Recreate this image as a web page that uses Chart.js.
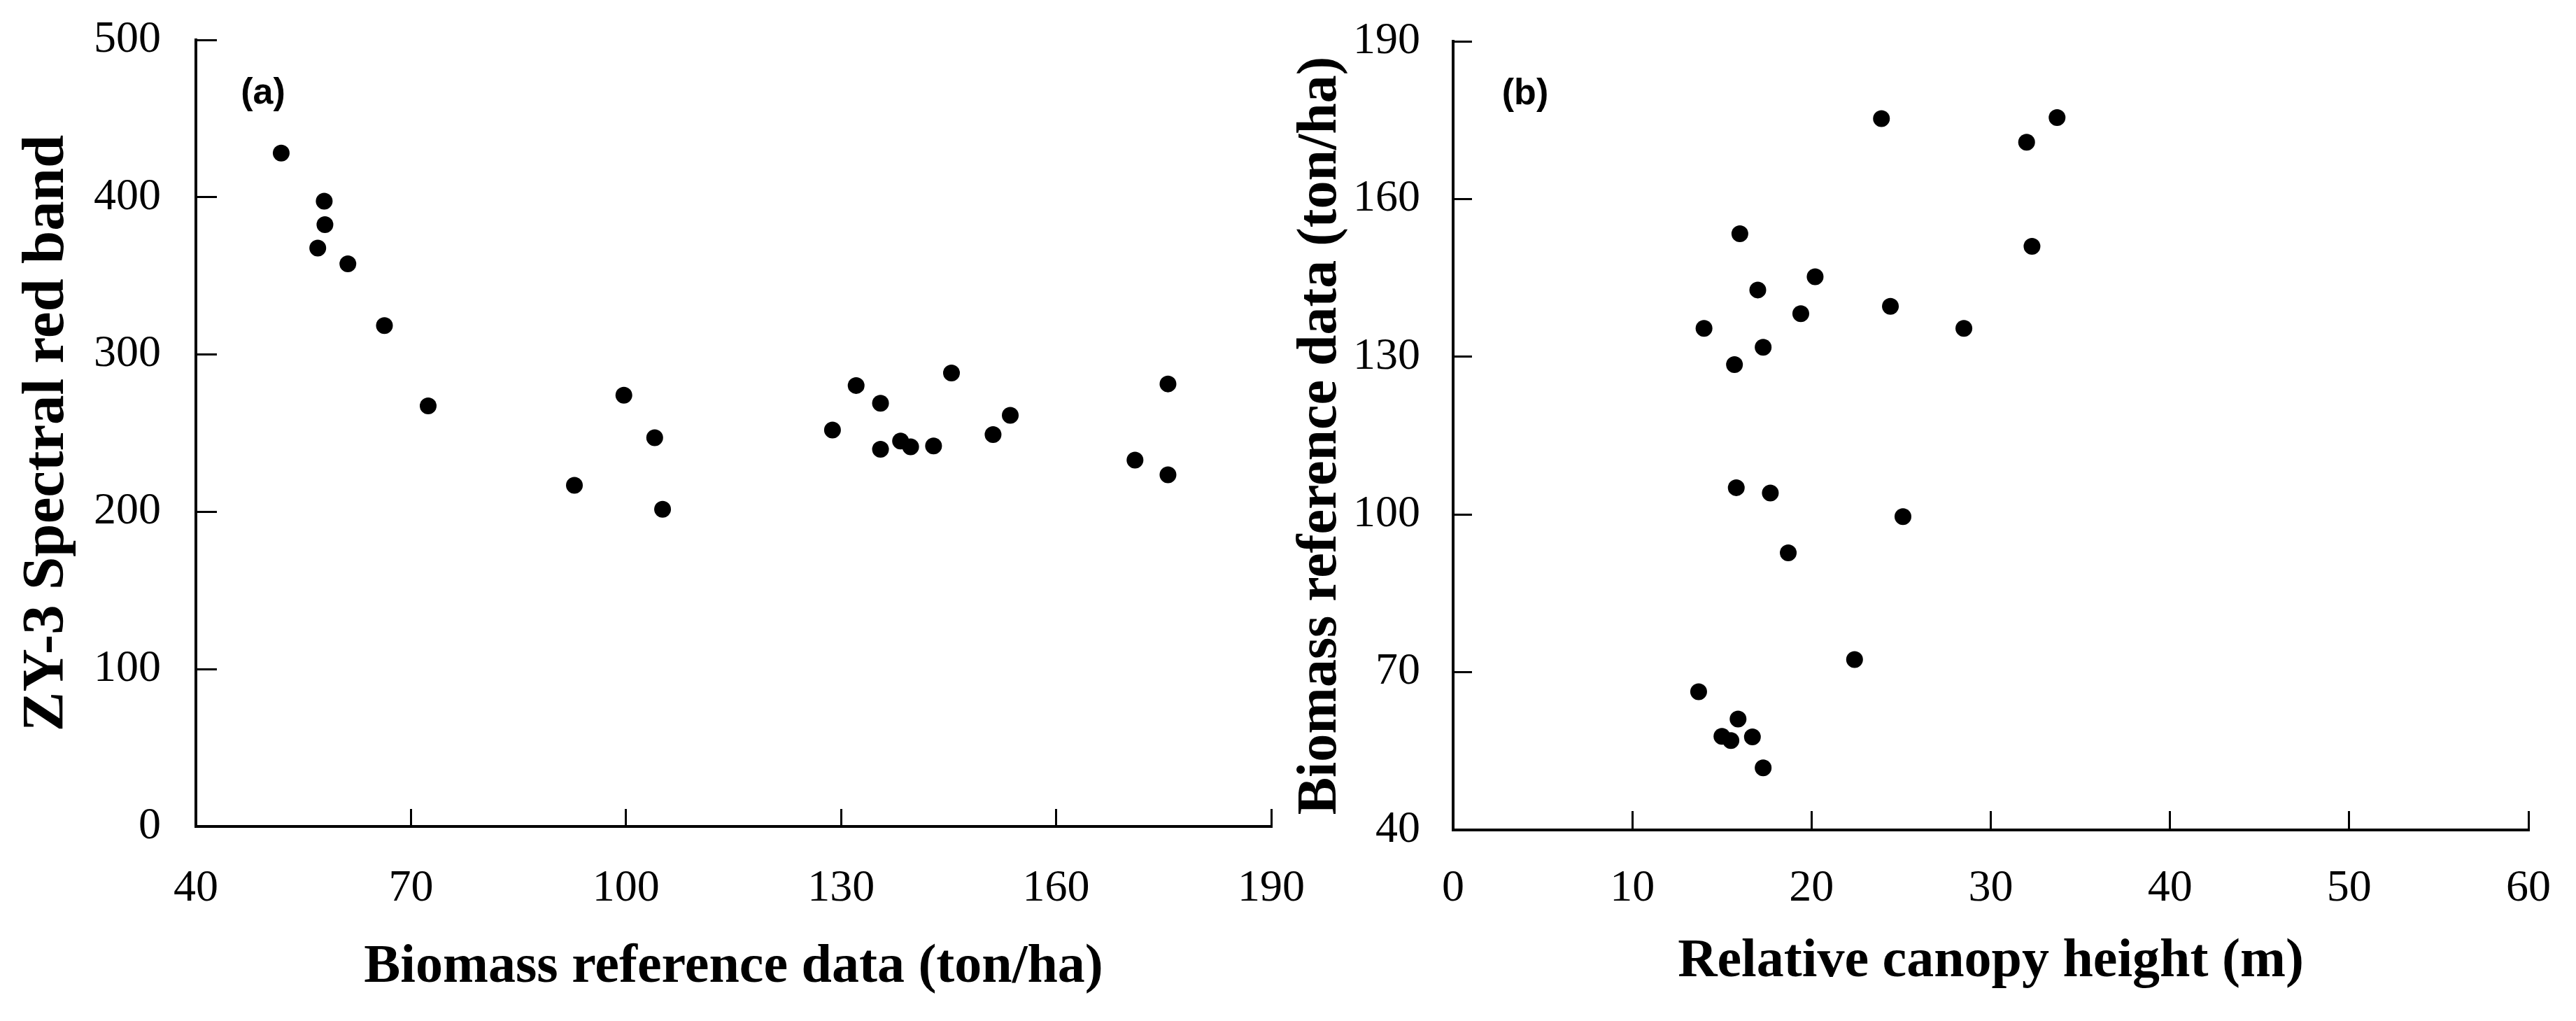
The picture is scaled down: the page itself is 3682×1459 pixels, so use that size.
<!DOCTYPE html>
<html>
<head>
<meta charset="utf-8">
<script src="https://cdn.jsdelivr.net/npm/chart.js@4.4.0/dist/chart.umd.min.js"></script>
<style>
  html, body { margin: 0; padding: 0; background: #fff; }
  #wrap { position: relative; width: 3682px; height: 1459px; overflow: hidden; }
  canvas { position: absolute; top: 0; }
  #chartA { left: 0; }
  #chartB { left: 1800px; }
</style>
</head>
<body>
<div id="wrap">
  <canvas id="chartA" width="1867" height="1459" style="width:1867px;height:1459px"></canvas>
  <canvas id="chartB" width="1882" height="1459" style="width:1882px;height:1459px"></canvas>
</div>
<script>
// Panel (a): biomass vs ZY-3 red band
const biomassA = [51.9, 57.9, 58.0, 57.0, 61.2, 66.3, 72.4, 99.7, 104.0, 92.8, 105.1, 132.1,
                  135.5, 145.4, 128.8, 135.5, 138.3, 139.7, 142.9, 151.2, 153.6, 175.6, 171.0, 175.6];
const redBand = [428, 397.5, 382.6, 367.7, 357.7, 318.4, 267.3, 274.1, 247.1, 216.9, 201.6, 280.3,
                 269.0, 288.3, 252.0, 239.8, 245.0, 241.3, 241.9, 249.1, 261.3, 281.3, 232.9, 223.5];
const xTicksA = [40, 70, 100, 130, 160, 190];
const yTicksA = [0, 100, 200, 300, 400, 500];

// Panel (b): canopy height vs biomass
const canopyHeight = [23.9, 33.7, 32.0, 16.0, 32.3, 20.2, 17.0, 24.4, 19.4, 14.0, 28.5, 17.3,
                      15.7, 15.8, 17.7, 25.1, 18.7, 22.4, 13.7, 15.9, 15.0, 15.5, 16.7, 17.3];
const biomassB = [175.3, 175.5, 170.8, 153.4, 151.0, 145.2, 142.7, 139.6, 138.2, 135.4, 135.4, 131.8,
                  128.5, 105.1, 104.1, 99.6, 92.7, 72.4, 66.3, 61.1, 57.8, 57.0, 57.7, 51.8];
const xTicksB = [0, 10, 20, 30, 40, 50, 60];
const yTicksB = [40, 70, 100, 130, 160, 190];

const serif = "'Liberation Serif', 'Times New Roman', serif";

function toPoints(xs, ys) {
    return xs.map((x, i) => ({ x: x, y: ys[i] }));
}

// draws the "(a)" / "(b)" panel tag inside the plot area
function panelTag(text, dx, dy) {
    return {
        id: 'panelTag',
        afterDraw(chart) {
            const ctx = chart.ctx;
            const area = chart.chartArea;
            ctx.save();
            ctx.fillStyle = '#000';
            ctx.font = "bold 52px 'Liberation Sans', Arial, sans-serif";
            ctx.textAlign = 'center';
            ctx.textBaseline = 'middle';
            ctx.fillText(text, area.left + dx, area.top + dy);
            ctx.restore();
        }
    };
}

function axis(opts) {
    return {
        type: 'linear',
        position: opts.position,
        min: opts.ticks[0],
        max: opts.ticks[opts.ticks.length - 1],
        afterBuildTicks: (scale) => {
            scale.ticks = opts.ticks.map(v => ({ value: v }));
        },
        afterFit: (scale) => {
            if (opts.position === 'left') scale.width = opts.size;
            else scale.height = opts.size;
            // plot area edges come from layout padding only
            scale.paddingTop = 0;
            scale.paddingBottom = 0;
            scale.paddingLeft = 0;
            scale.paddingRight = 0;
        },
        border: { display: true, color: '#000', width: 4 },
        grid: {
            drawOnChartArea: false,
            drawTicks: true,
            tickLength: -opts.tickLen,
            tickWidth: 3,
            tickColor: '#000',
            color: '#000',
            lineWidth: 3
        },
        ticks: {
            color: '#000',
            padding: opts.pad,
            font: { family: serif, size: 64 }
        },
        title: {
            display: true,
            text: opts.title,
            color: '#000',
            padding: opts.titlePad,
            font: { family: serif, size: opts.titleSize, weight: 'bold', lineHeight: 1.2 }
        }
    };
}

function makeChart(id, xs, ys, cfg) {
    return new Chart(document.getElementById(id), {
        type: 'scatter',
        data: {
            datasets: [{
                data: toPoints(xs, ys),
                backgroundColor: '#000',
                borderWidth: 0,
                pointRadius: 12,
                pointHoverRadius: 12
            }]
        },
        options: {
            responsive: false,
            animation: false,
            devicePixelRatio: 1,
            layout: { padding: cfg.padding },
            plugins: { legend: { display: false }, tooltip: { enabled: false } },
            scales: { x: cfg.x, y: cfg.y }
        },
        plugins: [cfg.tag]
    });
}

makeChart('chartA', biomassA, redBand, {
    padding: { left: 0, top: 57, right: 50, bottom: 0 },
    x: axis({ position: 'bottom', ticks: xTicksA, size: 278, tickLen: 25, pad: 76,
              title: 'Biomass reference data (ton/ha)', titleSize: 78, titlePad: { top: 0, bottom: 29 } }),
    y: axis({ position: 'left', ticks: yTicksA, size: 280, tickLen: 30, pad: 80,
              title: 'ZY-3 Spectral red band', titleSize: 85, titlePad: { top: 17, bottom: 0 } }),
    tag: panelTag('(a)', 96, 77)
});

makeChart('chartB', canopyHeight, biomassB, {
    padding: { left: 0, top: 59, right: 68, bottom: 0 },
    x: axis({ position: 'bottom', ticks: xTicksB, size: 273, tickLen: 27, pad: 73,
              title: 'Relative canopy height (m)', titleSize: 78, titlePad: { top: 0, bottom: 37 } }),
    y: axis({ position: 'left', ticks: yTicksB, size: 277, tickLen: 27, pad: 74,
              title: 'Biomass reference data (ton/ha)', titleSize: 80, titlePad: { top: 40, bottom: 0 } }),
    tag: panelTag('(b)', 103, 76)
});
</script>
</body>
</html>
